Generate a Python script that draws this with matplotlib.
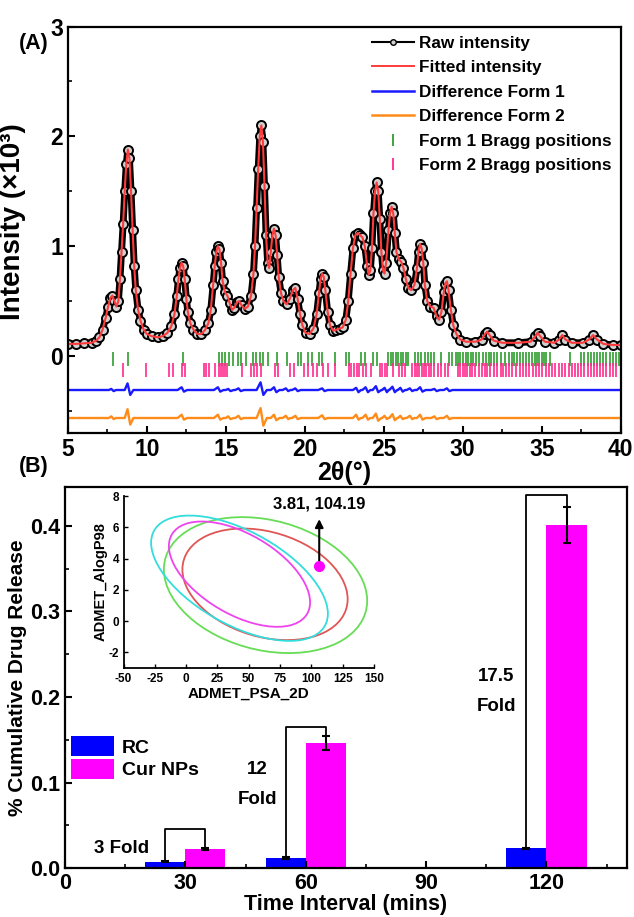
import matplotlib.pyplot as plt
import numpy as np
from matplotlib.patches import Circle
from matplotlib.lines import Line2D
from matplotlib.transforms import Affine2D
from matplotlib.ticker import MultipleLocator

plt.rcParams['font.family'] = ['Liberation Sans', 'DejaVu Sans']
plt.rcParams['font.weight'] = 'bold'
plt.rcParams['axes.labelweight'] = 'bold'
plt.rcParams['axes.unicode_minus'] = False

# ---------------- panel A data ----------------
raw_x = [5.0, 5.5, 6.0, 6.5, 6.8, 7.0, 7.2, 7.4, 7.55, 7.7, 7.82, 7.95, 8.08, 8.2, 8.3, 8.4,
         8.5, 8.6, 8.7, 8.8, 8.9, 9.0, 9.1, 9.2, 9.3, 9.45, 9.6, 9.8, 10.0, 10.3, 10.7, 11.0,
         11.3, 11.55, 11.75, 11.9, 12.0, 12.1, 12.2, 12.3, 12.4, 12.5, 12.6, 12.75, 12.95, 13.2,
         13.45, 13.7, 13.9, 14.05, 14.2, 14.3, 14.4, 14.5, 14.6, 14.7, 14.8, 14.95, 15.1, 15.25,
         15.4, 15.55, 15.7, 15.85, 16.0, 16.2, 16.4, 16.6, 16.75, 16.85, 16.95, 17.05, 17.15,
         17.25, 17.35, 17.45, 17.55, 17.65, 17.75, 17.85, 17.95, 18.05, 18.15, 18.25, 18.35,
         18.5, 18.65, 18.85, 19.05, 19.25, 19.4, 19.55, 19.7, 19.85, 20.05, 20.3, 20.55, 20.75,
         20.9, 21.0, 21.1, 21.2, 21.3, 21.45, 21.6, 21.8, 22.0, 22.2, 22.4, 22.6, 22.75, 22.9,
         23.05, 23.2, 23.35, 23.5, 23.65, 23.8, 23.95, 24.05, 24.15, 24.25, 24.35, 24.45, 24.55,
         24.65, 24.75, 24.85, 24.95, 25.05, 25.15, 25.3, 25.4, 25.5, 25.6, 25.7, 25.8, 25.95,
         26.1, 26.25, 26.4, 26.55, 26.75, 26.95, 27.1, 27.2, 27.3, 27.4, 27.5, 27.6, 27.75,
         27.95, 28.15, 28.35, 28.5, 28.65, 28.8, 28.9, 29.0, 29.1, 29.25, 29.4, 29.6, 29.85,
         30.2, 30.8, 31.2, 31.4, 31.55, 31.7, 31.95, 32.5, 33.5, 34.3, 34.6, 34.75, 34.9, 35.2,
         35.8, 36.1, 36.3, 36.5, 36.9, 37.6, 38.0, 38.25, 38.5, 38.9, 39.5, 40.0]
raw_y = [0.11, 0.11, 0.115, 0.12, 0.14, 0.17, 0.24, 0.35, 0.45, 0.53, 0.55, 0.5, 0.45, 0.5, 0.7, 0.95,
         1.2, 1.5, 1.75, 1.88, 1.8, 1.5, 1.15, 0.82, 0.6, 0.42, 0.32, 0.24, 0.2, 0.18, 0.17, 0.18,
         0.21, 0.27, 0.38, 0.55, 0.7, 0.8, 0.85, 0.82, 0.7, 0.52, 0.4, 0.3, 0.24, 0.2,
         0.2, 0.24, 0.3, 0.42, 0.65, 0.82, 0.95, 1.0, 0.97, 0.85, 0.68, 0.58, 0.55, 0.48,
         0.42, 0.44, 0.49, 0.5, 0.46, 0.43, 0.45, 0.55, 0.75, 1.0, 1.35, 1.7, 2.0,
         2.1, 1.95, 1.55, 1.1, 0.85, 0.8, 0.95, 1.1, 1.16, 1.1, 0.92, 0.72,
         0.57, 0.5, 0.47, 0.52, 0.6, 0.62, 0.52, 0.38, 0.28, 0.21, 0.2, 0.25, 0.38,
         0.57, 0.7, 0.75, 0.72, 0.6, 0.4, 0.28, 0.23, 0.24, 0.25, 0.26, 0.33, 0.5, 0.75,
         0.98, 1.1, 1.12, 1.1, 1.08, 1.0, 0.82, 0.74, 0.78, 0.98, 1.3, 1.5, 1.58,
         1.5, 1.25, 0.95, 0.78, 0.75, 0.85, 1.15, 1.3, 1.36, 1.3, 1.12, 0.95, 0.88,
         0.86, 0.8, 0.7, 0.62, 0.6, 0.65, 0.8, 0.95, 1.02, 0.98, 0.85, 0.65, 0.5,
         0.45, 0.44, 0.36, 0.33, 0.4, 0.58, 0.66, 0.68, 0.6, 0.42, 0.28, 0.2, 0.15,
         0.13, 0.13, 0.15, 0.2, 0.22, 0.19, 0.14, 0.12, 0.12, 0.13, 0.18, 0.21, 0.18, 0.13,
         0.12, 0.15, 0.19, 0.15, 0.12, 0.12, 0.15, 0.19, 0.15, 0.11, 0.1, 0.1]
fit_y = raw_y  # the fit lies on the raw points everywhere

diff_x = [5.0,
          7.6, 7.75, 7.9, 8.05, 8.6, 8.78, 8.95, 9.15, 11.95, 12.2, 12.35, 12.55,
          14.25, 14.5, 14.65, 14.85, 15.0, 15.15, 15.3, 15.5, 15.6, 15.8, 15.95, 16.15,
          16.95, 17.2, 17.38, 17.6, 17.85, 18.05, 18.2, 18.4, 18.6, 18.8, 18.95, 19.1,
          19.2, 19.4, 19.55, 19.75, 20.85, 21.1, 21.25, 21.45, 23.05, 23.25, 23.4, 23.55,
          23.65, 23.85, 24.0, 24.15, 24.3, 24.5, 24.65, 24.85, 24.9, 25.05, 25.2, 25.3,
          25.35, 25.55, 25.7, 25.85, 25.9, 26.05, 26.2, 26.35, 26.45, 26.65, 26.8, 26.95,
          27.1, 27.3, 27.45, 27.65, 28.0, 28.2, 28.35, 28.55, 28.8, 29.0, 29.15, 29.35,
          40.0]
diff1_y = [-0.31,
           -0.31, -0.30, -0.32, -0.31, -0.31, -0.25, -0.355, -0.31, -0.31, -0.285, -0.325, -0.31,
           -0.31, -0.285, -0.325, -0.31, -0.31, -0.30, -0.32, -0.31, -0.31, -0.295, -0.32, -0.31,
           -0.31, -0.24, -0.355, -0.31, -0.31, -0.285, -0.33, -0.31, -0.31, -0.295, -0.32, -0.31,
           -0.31, -0.295, -0.32, -0.31, -0.31, -0.295, -0.32, -0.31, -0.31, -0.29, -0.33, -0.31,
           -0.31, -0.285, -0.33, -0.31, -0.31, -0.275, -0.33, -0.31, -0.31, -0.29, -0.33, -0.31,
           -0.31, -0.28, -0.33, -0.31, -0.31, -0.29, -0.325, -0.31, -0.31, -0.295, -0.32, -0.31,
           -0.31, -0.285, -0.325, -0.31, -0.31, -0.30, -0.32, -0.31, -0.31, -0.295, -0.32, -0.31,
           -0.31]
diff2_y = [-0.565,
           -0.565, -0.55, -0.575, -0.565, -0.565, -0.485, -0.625, -0.565, -0.565, -0.535, -0.58, -0.565,
           -0.565, -0.535, -0.58, -0.565, -0.565, -0.55, -0.575, -0.565, -0.565, -0.545, -0.575, -0.565,
           -0.565, -0.475, -0.635, -0.565, -0.565, -0.535, -0.585, -0.565, -0.565, -0.545, -0.575, -0.565,
           -0.565, -0.545, -0.575, -0.565, -0.565, -0.54, -0.575, -0.565, -0.565, -0.535, -0.58, -0.565,
           -0.565, -0.535, -0.58, -0.565, -0.565, -0.525, -0.59, -0.565, -0.565, -0.545, -0.575, -0.565,
           -0.565, -0.53, -0.585, -0.565, -0.565, -0.545, -0.575, -0.565, -0.565, -0.545, -0.575, -0.565,
           -0.565, -0.535, -0.58, -0.565, -0.565, -0.55, -0.575, -0.565, -0.565, -0.545, -0.575, -0.565,
           -0.565]

bragg1 = [7.85, 8.8, 12.3, 14.55, 14.75, 14.95, 15.2, 15.45, 15.75, 15.95, 16.3, 16.7, 16.9,
          17.15, 17.35, 17.7, 18.25, 18.85, 19.55, 19.75, 20.2, 20.45, 20.9, 21.1, 21.9, 22.6,
          22.8, 23.55, 23.8, 24.3, 24.55, 25.3, 25.45, 25.6, 25.75, 25.9, 26.1, 26.25, 26.4,
          26.55, 26.95, 27.15, 27.35, 27.6, 27.8, 28.0, 28.2, 28.6, 29.1, 29.35, 29.55, 29.7,
          29.85, 30.0, 30.2, 30.35, 30.5, 30.65, 30.85, 31.0, 31.3, 31.5, 31.65, 31.8, 32.0,
          32.2, 32.4, 32.7, 32.9, 33.1, 33.25, 33.45, 33.6, 33.8, 34.0, 34.2, 34.4, 34.55,
          34.7, 34.85, 35.0, 35.15, 35.3, 35.5, 36.8, 37.5, 37.7, 37.9, 38.1, 38.3, 38.5, 38.7,
          38.9, 39.1, 39.3, 39.5, 39.7, 39.9]
bragg2 = [8.5, 9.95, 11.4, 11.65, 12.2, 12.4, 13.6, 13.75, 13.95, 14.3, 14.55, 14.7, 14.8,
          14.95, 15.1, 16.05, 16.6, 16.8, 17.0, 17.25, 18.1, 18.3, 19.05, 19.3, 19.95, 20.2,
          20.55, 20.8, 21.15, 21.5, 21.9, 22.8, 22.95, 23.1, 23.3, 23.45, 23.7, 23.9, 24.2,
          24.75, 24.9, 25.05, 25.2, 25.6, 25.95, 26.15, 26.35, 26.8, 26.95, 27.1, 27.25, 27.4,
          27.55, 27.7, 27.85, 28.0, 28.2, 28.45, 28.65, 28.85, 29.05, 29.7, 29.85, 30.0, 30.15,
          30.3, 30.45, 30.6, 30.8, 31.05, 31.25, 31.4, 31.55, 31.75, 31.95, 32.15, 32.4, 32.55,
          32.75, 32.95, 33.15, 33.35, 33.6, 33.8, 34.0, 34.2, 34.45, 34.65, 34.85, 35.05, 35.25,
          35.45, 35.65, 35.85, 36.1, 36.3, 36.5, 36.7, 36.9, 37.1, 37.3, 37.5, 37.7, 37.9, 38.1,
          38.3, 38.5, 38.7, 38.9, 39.1, 39.3, 39.5, 39.7]

# ---------------- panel B data ----------------
times = np.array([30, 60, 120])
rc = [0.0075, 0.012, 0.023]
rc_err = [0.001, 0.001, 0.001]
cur = [0.022, 0.146, 0.401]
cur_err = [0.001, 0.008, 0.021]
bracket_top = [0.046, 0.165, 0.436]
fold_text = ['3 Fold', '12\n\nFold', '17.5\n\nFold']

# inset ellipses: centre x, centre y, x half-extent, y half-extent, y-offset at rightmost point
ell_colors = ['#66dd55', '#e05555', '#33dddd', '#ee44ee']
ell_cx = [63.4, 63.0, 42.6, 42.6]
ell_cy = [2.3, 2.35, 2.74, 3.0]
ell_rx = [81.2, 66.0, 70.6, 56.4]
ell_ry = [4.35, 3.57, 4.01, 3.37]
ell_c = [-1.0, -0.95, -2.27, -1.8]
point_psa, point_alogp = 106.3, 3.5

fig = plt.figure(figsize=(6.34, 9.17), dpi=100)

# ================= (A) =================
ax = fig.add_axes([0.107, 0.528, 0.872, 0.443])
ax.plot(raw_x, raw_y, '-o', color='black', lw=5, ms=6.5, mfc='#d0d0d0', mec='black', mew=1.4)
ax.plot(raw_x, fit_y, '-', color='#ff3b3b', lw=1.5)
ax.plot(diff_x, diff1_y, '-', color='#1a1aff', lw=1.7)
ax.plot(diff_x, diff2_y, '-', color='#ff8c1a', lw=1.7)
ax.plot(bragg1, [-0.03] * len(bragg1), '|', color='#2e9e2e', ms=9.5, mew=1.2)
ax.plot(bragg2, [-0.13] * len(bragg2), '|', color='#ff2a8f', ms=9.5, mew=1.2)

ax.set_xlim(5, 40)
ax.set_ylim(-0.7, 3)
ax.xaxis.set_major_locator(MultipleLocator(5))
ax.xaxis.set_minor_locator(MultipleLocator(2.5))
ax.yaxis.set_major_locator(MultipleLocator(1))
ax.yaxis.set_minor_locator(MultipleLocator(0.5))
ax.tick_params(which='both', direction='in', labelsize=16.5, top=False, right=False)
ax.tick_params(which='major', length=5, width=1.5)
ax.tick_params(which='minor', length=3, width=1.2)
for s in ax.spines.values():
    s.set_linewidth(1.6)
ax.set_xlabel('2θ(°)', fontsize=18, labelpad=0)
ax.set_ylabel('Intensity (×10³)', fontsize=20, labelpad=3)
ax.yaxis.set_label_coords(-0.075, 0.52)

handles = [Line2D([], [], color='black', lw=1.5, marker='o', ms=4, mfc='#d0d0d0', mec='black'),
           Line2D([], [], color='#ff3b3b', lw=1.4),
           Line2D([], [], color='#1a1aff', lw=1.8),
           Line2D([], [], color='#ff8c1a', lw=1.8),
           Line2D([], [], color='#2e9e2e', ls='none', marker='|', ms=9, mew=1.3),
           Line2D([], [], color='#ff2a8f', ls='none', marker='|', ms=9, mew=1.3)]
labels = ['Raw intensity', 'Fitted intensity', 'Difference Form 1', 'Difference Form 2',
          'Form 1 Bragg positions', 'Form 2 Bragg positions']
ax.legend(handles, labels, loc='upper right', frameon=False, fontsize=12.3,
          handlelength=2.45, handletextpad=0.3, labelspacing=0.55, borderaxespad=0.15)
fig.text(0.03, 0.953, '(A)', fontsize=15.5, ha='left', va='center')

# ================= (B) =================
bx = fig.add_axes([0.1025, 0.0534, 0.886, 0.415])
bx.bar(times - 5, rc, width=10, color='#0000ff', yerr=rc_err, capsize=3,
       error_kw=dict(ecolor='black', elinewidth=1.5, capthick=1.5), label='RC')
bx.bar(times + 5, cur, width=10, color='#ff00ff', yerr=cur_err, capsize=3,
       error_kw=dict(ecolor='black', elinewidth=1.5, capthick=1.5), label='Cur NPs')

for t, r, re, c, ce, top in zip(times, rc, rc_err, cur, cur_err, bracket_top):
    bx.plot([t - 5, t - 5, t + 5, t + 5], [r + re, top, top, c + ce], color='black', lw=1.3)

bx.text(14.2, 0.023, fold_text[0], fontsize=13.5, ha='center', va='center')
bx.text(48, 0.098, fold_text[1], fontsize=13.5, ha='center', va='center', linespacing=0.85)
bx.text(107.5, 0.206, fold_text[2], fontsize=13.5, ha='center', va='center', linespacing=0.85)

bx.set_xlim(0, 140)
bx.set_ylim(0, 0.445)
bx.xaxis.set_major_locator(MultipleLocator(30))
bx.xaxis.set_minor_locator(MultipleLocator(15))
bx.yaxis.set_major_locator(MultipleLocator(0.1))
bx.yaxis.set_minor_locator(MultipleLocator(0.05))
bx.yaxis.set_major_formatter(plt.FormatStrFormatter('%.1f'))
bx.tick_params(which='both', direction='in', labelsize=15.5, top=False, right=False)
bx.tick_params(which='major', length=5, width=1.5)
bx.tick_params(which='minor', length=3, width=1.2)
for s in bx.spines.values():
    s.set_linewidth(1.6)
bx.set_xlabel('Time Interval (mins)', fontsize=15.5, labelpad=0)
bx.set_ylabel('% Cumulative Drug Release', fontsize=15, labelpad=2)
bx.legend(loc='center left', bbox_to_anchor=(-0.003, 0.29), frameon=False, fontsize=14,
          handlelength=2.2, handleheight=1.2, handletextpad=0.4, labelspacing=0.12,
          borderaxespad=0)
fig.text(0.03, 0.491, '(B)', fontsize=15.5, ha='left', va='center')

# inset
ins = bx.inset_axes([14.6, 0.234, 62.4, 0.201], transform=bx.transData)
for col, cx, cy, rx, ry, c in zip(ell_colors, ell_cx, ell_cy, ell_rx, ell_ry, ell_c):
    d = np.sqrt(ry ** 2 - c ** 2)
    tr = Affine2D.from_values(rx, c, 0, d, cx, cy) + ins.transData
    ins.add_patch(Circle((0, 0), 1, fill=False, edgecolor=col, lw=1.3, transform=tr))
ins.plot(point_psa, point_alogp, 'o', color='#ff00ff', ms=7, zorder=5)
ins.annotate('', xy=(point_psa, 6.7), xytext=(point_psa, point_alogp),
             arrowprops=dict(arrowstyle='-|>', color='black', lw=1.5, mutation_scale=12))
ins.text(point_psa, 7.5, '3.81, 104.19', fontsize=12, ha='center', va='center', clip_on=False)
ins.set_xlim(-50, 150)
ins.set_ylim(-3, 8)
ins.xaxis.set_major_locator(MultipleLocator(25))
ins.yaxis.set_major_locator(MultipleLocator(2))
ins.set_facecolor('none')
ins.spines['top'].set_visible(False)
ins.spines['right'].set_visible(False)
for s in ['left', 'bottom']:
    ins.spines[s].set_linewidth(1.3)
ins.tick_params(direction='in', labelsize=8.5, length=3, width=1)
ins.tick_params(axis='x', pad=4)
ins.tick_params(axis='y', pad=3)
ins.set_xlabel('ADMET_PSA_2D', fontsize=11, labelpad=1)
ins.set_ylabel('ADMET_AlogP98', fontsize=10.5, labelpad=1)

fig.savefig('out.png', dpi=100)
